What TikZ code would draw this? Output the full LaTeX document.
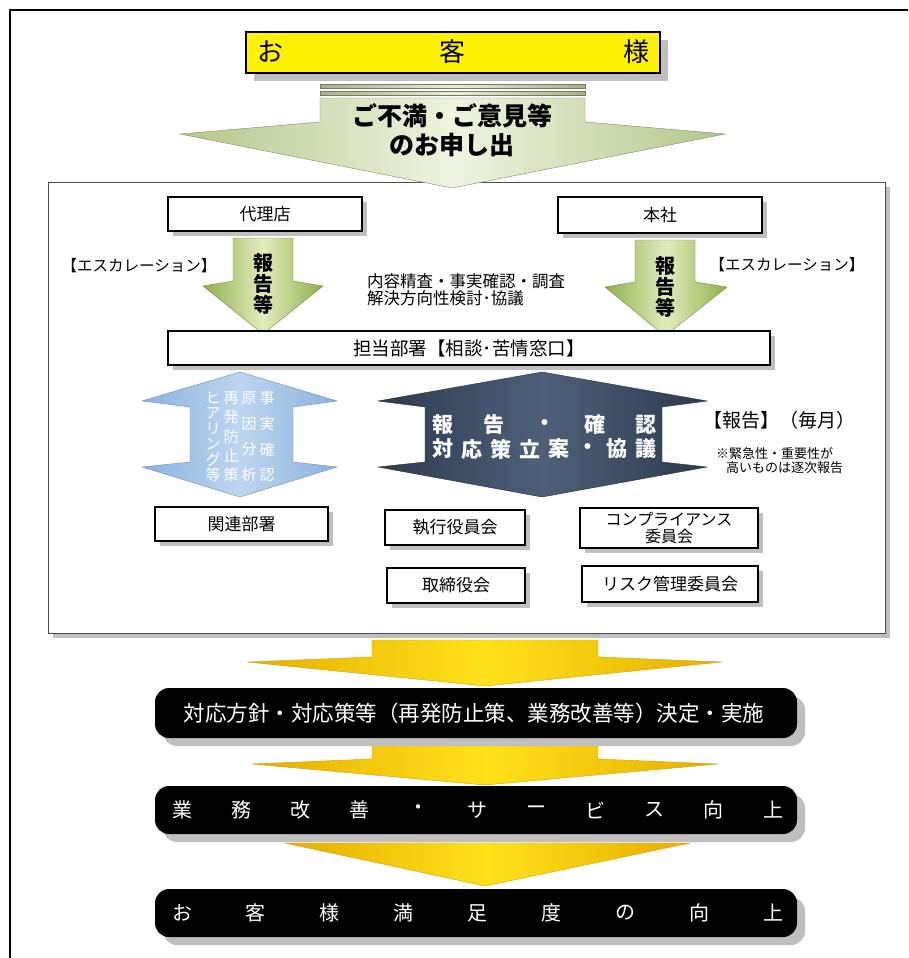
\documentclass[tikz,border=0pt]{standalone}
\usepackage{fontspec}
\setmainfont{Noto Sans CJK JP}
\newcommand\jfs[1]{\fontsize{#1}{#1}\selectfont}
\definecolor{stripeD}{HTML}{A3B287}
\definecolor{stripeL}{HTML}{E8EED8}
\definecolor{gTopD}{HTML}{B3C78A}
\definecolor{gTopL}{HTML}{EEF4E0}
\definecolor{gD}{HTML}{8FB04A}
\definecolor{gL}{HTML}{E2ECBD}
\definecolor{bD}{HTML}{8AB2DE}
\definecolor{bL}{HTML}{BDD6F0}
\definecolor{dD}{HTML}{2C3A4E}
\definecolor{dL}{HTML}{4E6079}
\definecolor{yD}{HTML}{E6AE00}
\definecolor{yL}{HTML}{FFE21A}
\definecolor{shadowgray}{HTML}{BFBFBF}
\tikzset{
  shd/.style={preaction={draw=none, fill=shadowgray, transform canvas={xshift=5pt, yshift=-5pt}}},
  shdb/.style={preaction={draw=none, fill=shadowgray, transform canvas={xshift=8pt, yshift=-8pt}}},
  wbox/.style={draw=black, line width=1.1pt, fill=white, shd, inner sep=0pt, font=\jfs{17}, align=center},
  ybox/.style={draw=black, line width=1.5pt, fill=yellow, shdb, inner sep=0pt},
  bbox/.style={fill=black, rounded corners=14pt, shdb, inner sep=0pt, minimum width=642pt},
  wtxt/.style={text=white, font=\jfs{20}},
  garrow/.style={draw=gD!80!black, line width=0.4pt, left color=gD, right color=gD, middle color=gL},
  yarrow/.style={draw=yD!90!black, line width=0.4pt, left color=yD, right color=yD, middle color=yL},
}
\begin{document}
\begin{tikzpicture}[x=1pt, y=-1pt, every node/.style={inner sep=0pt, outer sep=0pt}]
\useasboundingbox (0,0) rectangle (908,958);
\fill[white] (0,0) rectangle (908,958);
% page frame
\draw[line width=1.2pt] (10,958) -- (10,10) -- (908,10);

% customer box
\node[ybox, minimum width=414pt, minimum height=41pt] (okyaku) at (453,52.5) {};
\node[font=\jfs{26}] (ok1) at (270,52) {お};
\node[font=\jfs{26}] (ok2) at (452,52) {客};
\node[font=\jfs{26}] (ok3) at (636,52) {様};

% big frame
\draw[draw=black!70, line width=1pt, fill=white, shd] (48,182) rectangle (885,633);

% stripes and top arrow
\path[draw=stripeD!70!black, line width=0.4pt, left color=stripeD, right color=stripeD, middle color=stripeL] (320,84) rectangle (585,88);
\path[draw=stripeD!70!black, line width=0.4pt, left color=stripeD, right color=stripeD, middle color=stripeL] (320,91) rectangle (585,95);
\path[draw=gTopD!70!black, line width=0.4pt, left color=gTopD, right color=gTopD, middle color=gTopL]
  (320,98) -- (585,98) -- (585,122) -- (725,134) -- (452,188) -- (180,134) -- (320,122) -- cycle;
\node[font=\jfs{25}\bfseries] (mou1) at (452,116) {ご不満・ご意見等};
\node[font=\jfs{25}\bfseries] (mou2) at (452,145) {のお申し出};

% agent / head office
\node[wbox, minimum width=194pt, minimum height=34pt] (dairi) at (265,214) {代理店};
\node[wbox, minimum width=204pt, minimum height=36pt] (honsha) at (660,215) {本社};

% small green arrows
\path[garrow] (233,238) -- (293,238) -- (293,281) -- (323,286) -- (263,334) -- (203,286) -- (233,281) -- cycle;
\path[garrow] (635,240) -- (695,240) -- (695,282) -- (727,287) -- (665,336) -- (605,287) -- (635,282) -- cycle;
\node[font=\jfs{20}\bfseries] (lh1) at (263,263) {報};
\node[font=\jfs{20}\bfseries] (lh2) at (263,284) {告};
\node[font=\jfs{20}\bfseries] (lh3) at (263,305) {等};
\node[font=\jfs{20}\bfseries] (rh1) at (665,266) {報};
\node[font=\jfs{20}\bfseries] (rh2) at (665,287) {告};
\node[font=\jfs{20}\bfseries] (rh3) at (665,308) {等};

\node[font=\jfs{15.5}] (escL) at (139,266) {【エスカレーション】};
\node[font=\jfs{15.5}] (escR) at (787,265) {【エスカレーション】};
\node[font=\jfs{16.5}, anchor=west] (mid1) at (367,281) {内容精査・事実確認・調査};
\node[font=\jfs{16.5}, anchor=west] (mid2) at (367,298) {解決方向性検討･協議};

% tanto
\node[wbox, minimum width=602pt, minimum height=34pt, font=\jfs{18.5}] (tanto) at (469,348) {担当部署【相談･苦情窓口】};

% light blue double arrow
\path[draw=bD!80!black, line width=0.4pt, left color=bD, right color=bD, middle color=bL]
  (240,372) -- (337,401) -- (293,407) -- (293,462) -- (337,467) -- (240,497) -- (142,467) -- (190,462) -- (190,407) -- (142,401) -- cycle;
\foreach \c [count=\i] in {事,実,確,認}
  \node[text=white, font=\jfs{15}] (ca\i) at (267,{398+(\i-1)*25.7}) {\c};
\foreach \c [count=\i] in {原,因,分,析}
  \node[text=white, font=\jfs{15}] (cb\i) at (249,{398+(\i-1)*25.7}) {\c};
\foreach \c [count=\i] in {再,発,防,止,策}
  \node[text=white, font=\jfs{15}] (cc\i) at (231,{398+(\i-1)*19.25}) {\c};
\foreach \c [count=\i] in {ヒ,ア,リ,ン,グ,等}
  \node[text=white, font=\jfs{15}] (cd\i) at (213,{398+(\i-1)*15.4}) {\c};

% dark double arrow
\path[draw=dD!80!black, line width=0.4pt, left color=dD, right color=dD, middle color=dL]
  (542,372) -- (707,401) -- (662,407) -- (662,462) -- (707,467) -- (542,497) -- (378,467) -- (425,462) -- (425,407) -- (378,401) -- cycle;
\foreach \c [count=\i] in {報,告,・,確,認}
  \node[text=white, font=\jfs{21}\bfseries] (da\i) at ({443+(\i-1)*50.75},425) {\c};
\foreach \c [count=\i] in {対,応,策,立,案,・,協,議}
  \node[text=white, font=\jfs{21}\bfseries] (db\i) at ({443+(\i-1)*29},449) {\c};

\node[font=\jfs{19}, anchor=west] (hokoku) at (703,420) {【報告】（毎月）};
\node[font=\jfs{13}, anchor=west] (note1) at (716,454) {※緊急性・重要性が};
\node[font=\jfs{13}, anchor=west] (note2) at (726,468) {高いものは逐次報告};

% committee boxes
\node[wbox, minimum width=173pt, minimum height=34pt] (kanren) at (241.5,524) {関連部署};
\node[wbox, minimum width=140pt, minimum height=35pt] (shikko) at (455,527.5) {執行役員会};
\node[wbox, minimum width=178pt, minimum height=40pt, font=\fontsize{16}{17}\selectfont] (compl) at (669,528) {コンプライアンス\\委員会};
\node[wbox, minimum width=138pt, minimum height=35pt] (torishimari) at (456,585.5) {取締役会};
\node[wbox, minimum width=176pt, minimum height=36pt] (risk) at (670,584) {リスク管理委員会};

% yellow arrows
\path[yarrow] (372,640) -- (598,640) -- (598,657) -- (722,662) -- (485,686) -- (247,662) -- (372,657) -- cycle;
\path[yarrow] (372,742) -- (598,742) -- (598,759) -- (718,764) -- (485,785) -- (252,764) -- (372,759) -- cycle;
\path[yarrow] (285,843) -- (690,843) -- (485,886) -- cycle;

% black result boxes
\node[bbox, minimum height=50pt] (res1) at (476,713) {};
\node[wtxt, font=\jfs{21.5}] (res1t) at (474,713) {対応方針・対応策等（再発防止策、業務改善等）決定・実施};
\node[bbox, minimum height=48pt] (res2) at (476,810) {};
\foreach \c [count=\i] in {業,務,改,善,・,サ,ー,ビ,ス,向,上}
  \node[wtxt] (rb\i) at ({182+(\i-1)*59.1},810) {\c};
\node[bbox, minimum height=48pt] (res3) at (476,913) {};
\foreach \c [count=\i] in {お,客,様,満,足,度,の,向,上}
  \node[wtxt] (rc\i) at ({182+(\i-1)*73.9},913) {\c};
\end{tikzpicture}
\end{document}
